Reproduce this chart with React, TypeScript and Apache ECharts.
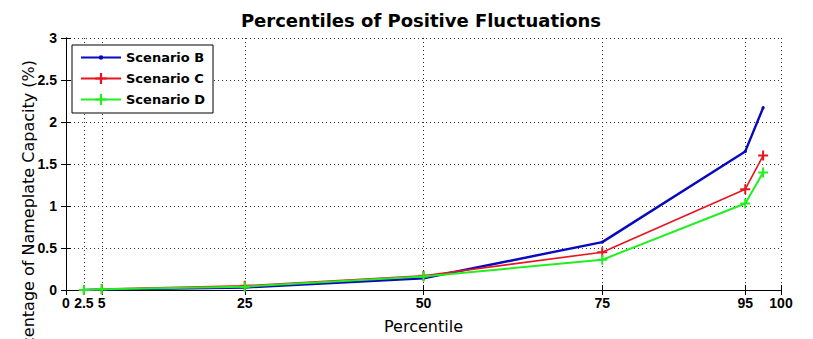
import React, { useEffect, useRef } from "react";
import * as echarts from "echarts";

const percentiles = [2.5, 5, 25, 50, 75, 95, 97.5];
const scenarioB = [0.0, 0.005, 0.03, 0.14, 0.57, 1.65, 2.17];
const scenarioC = [0.0, 0.01, 0.05, 0.17, 0.45, 1.2, 1.6];
const scenarioD = [0.0, 0.01, 0.04, 0.16, 0.36, 1.03, 1.4];
const xTicks = [0, 2.5, 5, 25, 50, 75, 95, 100];

const FONT = "Liberation Sans, Arial, sans-serif";
const WIDE = "DejaVu Sans, sans-serif";
const PLUS = "path://M4,0H6V4H10V6H6V10H4V6H0V4H4Z";
const DOT = "path://M0,0M10,10M5,3A2,2,0,1,1,5,7A2,2,0,1,1,5,3Z";

export default function App() {
  const ref = useRef<HTMLDivElement>(null);
  useEffect(() => {
    if (!ref.current) return;
    const chart = echarts.init(ref.current, undefined, { renderer: "svg" });
    const pairs = (ys: number[]) => percentiles.map((x, i) => [x, ys[i]]);
    const axisLine = { show: true, lineStyle: { color: "#000", width: 1 } };
    chart.setOption({
      animation: false,
      backgroundColor: "#fff",
      title: {
        text: "Percentiles of Positive Fluctuations",
        left: 416,
        top: 6,
        textAlign: "center",
        textStyle: { fontFamily: WIDE, fontWeight: "bold", fontSize: 18, color: "#000" },
      },
      grid: { left: 66, right: 32, top: 38, bottom: 45 },
      legend: {
        orient: "vertical",
        left: 72,
        top: 45,
        itemWidth: 40,
        itemHeight: 14,
        itemGap: 8,
        padding: [6, 8, 7, 8],
        borderColor: "#000",
        borderWidth: 1,
        backgroundColor: "#fff",
        textStyle: { fontFamily: WIDE, fontWeight: "bold", fontSize: 13, color: "#000" },
        data: ["Scenario B", "Scenario C", "Scenario D"],
      },
      xAxis: [
        {
          type: "value",
          min: 0,
          max: 100,
          position: "bottom",
          name: "Percentile",
          nameLocation: "middle",
          nameGap: 28,
          nameTextStyle: { fontFamily: WIDE, fontSize: 16, color: "#000" },
          axisLine,
          axisTick: { show: true, inside: true, length: 5, customValues: xTicks, lineStyle: { color: "#000" } },
          axisLabel: {
            customValues: xTicks,
            fontFamily: FONT,
            fontWeight: "bold",
            fontSize: 14,
            color: "#000",
            margin: 6,
            formatter: (v: number) => String(v),
          },
          splitLine: { show: true, lineStyle: { color: "#333", type: [1, 3], width: 1 } },
        },
        {
          type: "value",
          min: 0,
          max: 100,
          position: "top",
          axisLine,
          axisTick: { show: true, inside: true, length: 5, customValues: xTicks, lineStyle: { color: "#000" } },
          axisLabel: { show: false },
          splitLine: { show: false },
        },
      ],
      yAxis: [
        {
          type: "value",
          min: 0,
          max: 3,
          interval: 0.5,
          position: "left",
          axisLine,
          axisTick: { show: true, inside: true, length: 5, lineStyle: { color: "#000" } },
          axisLabel: { fontFamily: FONT, fontWeight: "bold", fontSize: 14, color: "#000", margin: 9 },
          splitLine: { show: true, lineStyle: { color: "#333", type: [1, 3], width: 1 } },
        },
        {
          type: "value",
          min: 0,
          max: 3,
          interval: 0.5,
          position: "right",
          axisLine,
          axisTick: { show: true, inside: true, length: 5, lineStyle: { color: "#000" } },
          axisLabel: { show: false },
          splitLine: { show: false },
        },
      ],
      graphic: [
        {
          type: "text",
          x: 28,
          y: 60,
          rotation: Math.PI / 2,
          style: {
            text: "Percentage of Nameplate Capacity (%)",
            fontFamily: WIDE,
            fontSize: 16,
            fill: "#000",
            textAlign: "right",
            textVerticalAlign: "middle",
          },
        },
      ],
      series: [
        {
          name: "Scenario B",
          type: "line",
          data: pairs(scenarioB),
          symbol: DOT,
          symbolSize: 8,
          lineStyle: { color: "#0808c0", width: 2.4 },
          itemStyle: { color: "#0808c0" },
          z: 3,
        },
        {
          name: "Scenario C",
          type: "line",
          data: pairs(scenarioC),
          symbol: PLUS,
          symbolSize: 10,
          lineStyle: { color: "#e8141e", width: 1.6 },
          itemStyle: { color: "#e8141e" },
          z: 4,
        },
        {
          name: "Scenario D",
          type: "line",
          data: pairs(scenarioD),
          symbol: PLUS,
          symbolSize: 10,
          lineStyle: { color: "#22ee22", width: 2 },
          itemStyle: { color: "#22ee22" },
          z: 5,
        },
      ],
    });
    return () => chart.dispose();
  }, []);
  return <div ref={ref} style={{ width: 813, height: 339, position: "absolute", left: 0, top: 0 }} />;
}
